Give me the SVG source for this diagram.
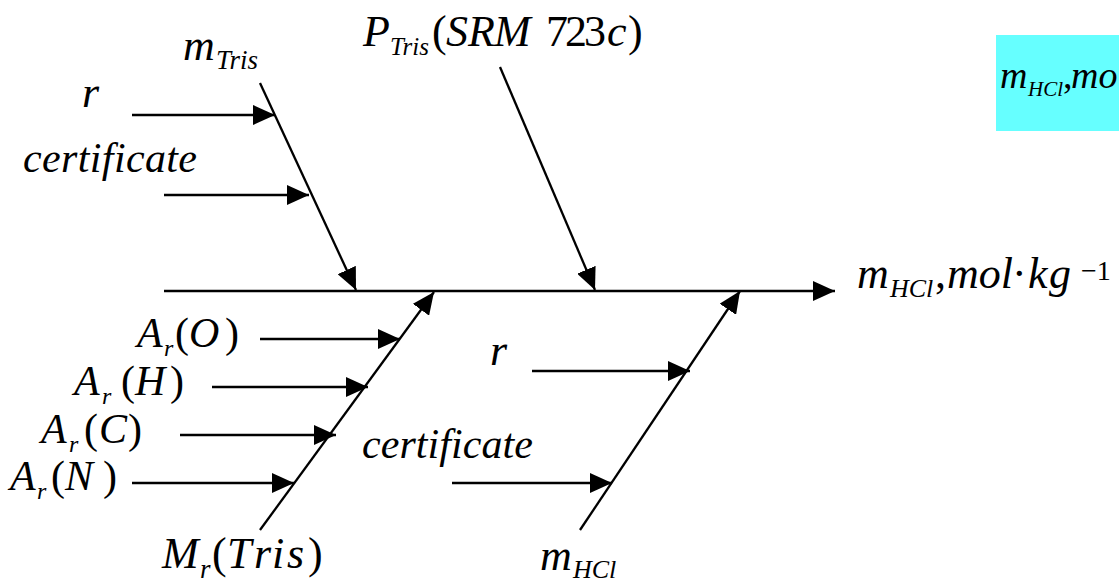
<svg xmlns="http://www.w3.org/2000/svg" width="1119" height="582" viewBox="0 0 1119 582">
<defs>
<marker id="ah" markerUnits="userSpaceOnUse" markerWidth="22" markerHeight="20" refX="22" refY="10" orient="auto" viewBox="0 0 22 20">
<path d="M0,0 L22,10 L0,20 z" fill="#000"/>
</marker>
<style>
text{font-family:'Liberation Serif','Times New Roman',serif;font-style:italic;fill:#000}
.n{font-style:normal}
.ln{stroke:#000;stroke-width:2.3;fill:none;marker-end:url(#ah)}
</style>
</defs>
<rect width="1119" height="582" fill="#fff"/>
<g id="connectors">
<line class="ln" x1="164" y1="291" x2="835" y2="291"/>
<line class="ln" x1="260" y1="83" x2="356" y2="290"/>
<line class="ln" x1="132" y1="115" x2="275" y2="115"/>
<line class="ln" x1="164" y1="195" x2="309" y2="195"/>
<line class="ln" x1="500" y1="67" x2="595" y2="290"/>
<line class="ln" x1="260" y1="530" x2="434" y2="292"/>
<line class="ln" x1="260" y1="339" x2="400" y2="339"/>
<line class="ln" x1="212" y1="387" x2="368" y2="387"/>
<line class="ln" x1="180" y1="435" x2="336" y2="435"/>
<line class="ln" x1="132" y1="483" x2="294" y2="483"/>
<line class="ln" x1="580" y1="530" x2="740" y2="291"/>
<line class="ln" x1="532" y1="371" x2="690" y2="371"/>
<line class="ln" x1="452" y1="483" x2="612" y2="483"/>
</g>
<g id="node-mtris"><text x="183" y="60" font-size="44">m<tspan x="216" y="69" font-size="27">Tris</tspan></text></g>
<g id="node-r-top"><text x="82" y="107" font-size="44">r</text></g>
<g id="node-cert-top"><text x="23" y="172" font-size="42" textLength="174" lengthAdjust="spacing">certificate</text></g>
<g id="node-ptris"><text x="363" y="46" font-size="44">P<tspan x="390" y="55" font-size="25">Tris</tspan><tspan class="n" x="432" y="46">(</tspan><tspan x="446 468 494">SRM</tspan><tspan class="n" x="546 565 584">723</tspan><tspan x="607">c</tspan><tspan class="n" x="628">)</tspan></text></g>
<g id="node-output"><text x="857" y="288" font-size="44">m<tspan x="890" y="297" font-size="26">HCl</tspan><tspan class="n" x="935" y="288">,</tspan><tspan x="947">mol</tspan><tspan class="n" x="1012">·</tspan><tspan x="1028 1049">kg</tspan><tspan class="n" x="1081" y="280" font-size="28">−1</tspan></text></g>
<g id="node-box"><rect x="996" y="35" width="123" height="96" fill="#66FFFF"/><text x="1000" y="88" font-size="38">m<tspan x="1028" y="96" font-size="21">HCl</tspan><tspan class="n" x="1063" y="88">,</tspan><tspan x="1071">mo</tspan></text></g>
<g id="node-aro"><text x="137" y="347" font-size="42">A<tspan x="164" y="356" font-size="24">r</tspan><tspan class="n" x="175" y="347">(</tspan><tspan x="189">O</tspan><tspan class="n" x="225">)</tspan></text></g>
<g id="node-arh"><text x="74" y="395" font-size="42">A<tspan x="102" y="404" font-size="24">r</tspan><tspan class="n" x="121" y="395">(</tspan><tspan x="135">H</tspan><tspan class="n" x="170">)</tspan></text></g>
<g id="node-arc"><text x="41" y="443" font-size="42">A<tspan x="69" y="452" font-size="24">r</tspan><tspan class="n" x="84" y="443">(</tspan><tspan x="99">C</tspan><tspan class="n" x="128">)</tspan></text></g>
<g id="node-arn"><text x="10" y="490" font-size="42">A<tspan x="37" y="499" font-size="24">r</tspan><tspan class="n" x="51" y="490">(</tspan><tspan x="65">N</tspan><tspan class="n" x="103">)</tspan></text></g>
<g id="node-mr"><text x="162" y="568" font-size="44">M<tspan x="200" y="578" font-size="27">r</tspan><tspan class="n" x="212" y="568">(</tspan><tspan x="227 254 272 287">Tris</tspan><tspan class="n" x="308">)</tspan></text></g>
<g id="node-r-low"><text x="490" y="365" font-size="44">r</text></g>
<g id="node-cert-low"><text x="362" y="458" font-size="42" textLength="171" lengthAdjust="spacing">certificate</text></g>
<g id="node-mhcl"><text x="540" y="570" font-size="44">m<tspan x="573" y="578" font-size="26">HCl</tspan></text></g>
</svg>
